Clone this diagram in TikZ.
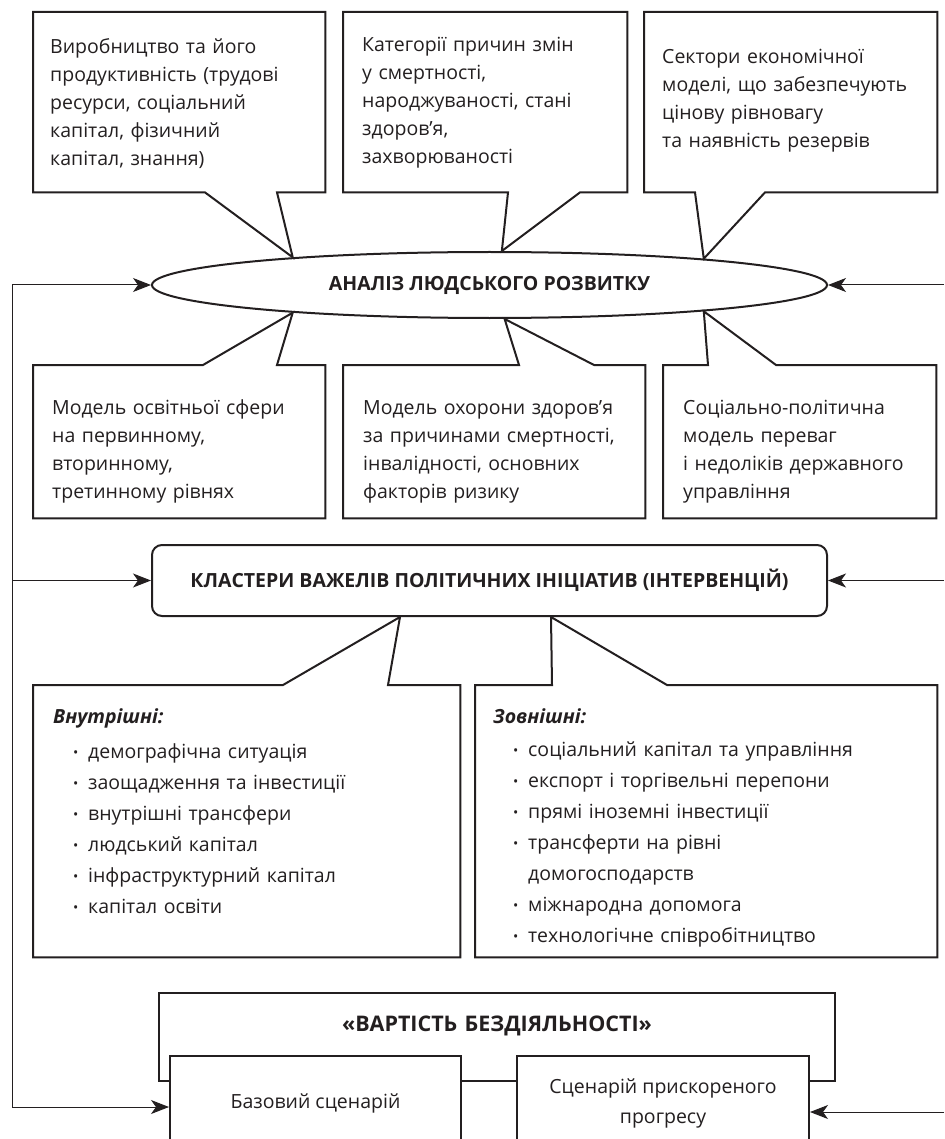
\documentclass[tikz,border=0pt]{standalone}
\usepackage{fontspec}
\setmainfont{Open Sans}
\usetikzlibrary{arrows.meta,shapes.geometric,positioning}
\definecolor{ink}{RGB}{35,31,32}
\newcommand{\bul}{\makebox[35pt][l]{\hspace{20pt}\raisebox{1pt}{\fontsize{14}{14}\selectfont•}}}

\begin{document}
\begin{tikzpicture}[x=1pt,y=-1pt,>={Stealth[length=18pt,width=14pt,inset=5pt]},
  every node/.style={font=\fontsize{19.5}{28}\selectfont,text=ink},
  txtbox/.style={anchor=north west,inner ysep=0pt,align=left},
  title/.style={font=\fontsize{19.5}{28}\selectfont\bfseries},
  listfont/.style={font=\fontsize{19.5}{31}\selectfont},
  outl/.style={draw=ink,line width=2pt,line join=miter},
  fbl/.style={draw=ink,line width=1pt}]
\useasboundingbox (0,0) rectangle (944,1139);
\clip (0,0) rectangle (944,1139);

\node[ellipse,outl,fill=white,minimum width=675pt,minimum height=66pt,inner sep=0pt,title] (analiz) at (489.5,285) {АНАЛІЗ ЛЮДСЬКОГО РОЗВИТКУ};

\node[txtbox,text width=258pt,inner xsep=17pt,text height=41pt,text depth=139pt] (vyr) at (33,12) {Виробництво та його\\продуктивність (трудові\\ресурси, соціальний\\капітал, фізичний\\капітал, знання)};
\node[txtbox,text width=246pt,inner xsep=19pt,text height=39pt,text depth=141pt] (kat) at (343,12) {Категорії причин змін\\у смертності,\\народжуваності, стані\\здоров’я,\\захворюваності};
\node[txtbox,text width=257pt,inner xsep=18pt,text height=51pt,text depth=129pt] (sek) at (644,12) {Сектори економічної\\моделі, що забезпечують\\цінову рівновагу\\та наявність резервів};
\draw[outl] (vyr.north west) -- (vyr.north east) -- (vyr.south east) -- ([xshift=244pt]vyr.south west) -- (analiz.172.5) -- ([xshift=172pt]vyr.south west) -- (vyr.south west) -- cycle;
\draw[outl] (kat.north west) -- (kat.north east) -- (kat.south east) -- ([xshift=237pt]kat.south west) -- (analiz.70) -- ([xshift=165pt]kat.south west) -- (kat.south west) -- cycle;
\draw[outl] (sek.north west) -- (sek.north east) -- (sek.south east) -- ([xshift=121pt]sek.south west) -- (analiz.7) -- ([xshift=51pt]sek.south west) -- (sek.south west) -- cycle;

\node[txtbox,text width=254pt,inner xsep=19pt,text height=49pt,text depth=104pt] (osv) at (33,365) {Модель освітньої сфери\\на первинному,\\вторинному,\\третинному рівнях};
\node[txtbox,text width=262pt,inner xsep=20pt,text height=49pt,text depth=104pt] (ohor) at (343,365) {Модель охорони здоров’я\\за причинами смертності,\\інвалідності, основних\\факторів ризику};
\node[txtbox,text width=233pt,inner xsep=20pt,text height=49pt,text depth=104pt] (socpol) at (663,365) {Соціально-політична\\модель переваг\\і недоліків державного\\управління};
\draw[outl] (osv.south west) -- (osv.south east) -- (osv.north east) -- ([xshift=244pt]osv.north west) -- (analiz.-172.5) -- ([xshift=170pt]osv.north west) -- (osv.north west) -- cycle;
\draw[outl] (ohor.south west) -- (ohor.south east) -- (ohor.north east) -- ([xshift=251pt]ohor.north west) -- (analiz.-66) -- ([xshift=176pt]ohor.north west) -- (ohor.north west) -- cycle;
\draw[outl] (socpol.south west) -- (socpol.south east) -- (socpol.north east) -- ([xshift=113pt]socpol.north west) -- (analiz.-7) -- ([xshift=45pt]socpol.north west) -- (socpol.north west) -- cycle;

\node[outl,rounded corners=10pt,minimum width=675pt,minimum height=71pt,title] (klaster) at (489.5,580.5) {КЛАСТЕРИ ВАЖЕЛІВ ПОЛІТИЧНИХ ІНІЦІАТИВ (ІНТЕРВЕНЦІЙ)};

\node[txtbox,listfont,text width=387pt,inner xsep=20pt,text height=38pt,text depth=234pt] (vnutr) at (33,685) {\textbf{\textit{Внутрішні:}}\\[4pt]
\bul демографічна ситуація\\
\bul заощадження та інвестиції\\
\bul внутрішні трансфери\\
\bul людський капітал\\
\bul інфраструктурний капітал\\
\bul капітал освіти};
\node[txtbox,listfont,text width=426pt,inner xsep=18pt,text height=38pt,text depth=234pt] (zovn) at (475,685) {\textbf{\textit{Зовнішні:}}\\[2pt]
\bul соціальний капітал та управління\\
\bul експорт і торгівельні перепони\\
\bul прямі іноземні інвестиції\\
\bul трансферти на рівні\\
\hspace*{35pt}домогосподарств\\
\bul міжнародна допомога\\
\bul технологічне співробітництво};
\draw[outl] (vnutr.south west) -- (vnutr.south east) -- (vnutr.north east) -- ([xshift=355pt]vnutr.north west) -- ([xshift=-89.5pt]klaster.south) -- ([xshift=250pt]vnutr.north west) -- (vnutr.north west) -- cycle;
\draw[outl] (zovn.south west) -- (zovn.south east) -- (zovn.north east) -- ([xshift=192pt]zovn.north west) -- ([xshift=61.5pt]klaster.south) -- ([xshift=77pt]zovn.north west) -- (zovn.north west) -- cycle;

\node[outl,fill=white,anchor=north west,text width=640pt,inner xsep=18pt,inner ysep=0pt,align=center,text height=38pt,text depth=50pt,font=\fontsize{21.5}{28}\selectfont\bfseries] (vartist) at (158,992) {«ВАРТІСТЬ БЕЗДІЯЛЬНОСТІ»};
\node[outl,fill=white,minimum width=291pt,minimum height=94pt,align=center] (bazov) at (315.5,1103) {Базовий сценарій};
\node[outl,fill=white,minimum width=292pt,minimum height=94pt,align=center,font=\fontsize{19.5}{30}\selectfont] (pryskor) at (663,1103) {Сценарій прискореного\\прогресу};

\coordinate (fbx) at (12,0);
\coordinate (rgx) at (944,0);
\coordinate (bazin) at ([yshift=-4pt]bazov.west);
\coordinate (prin) at ([yshift=-9pt]pryskor.east);
\draw[fbl] (fbx |- analiz.west) -- (fbx |- bazin);
\draw[fbl,->] (fbx |- analiz.west) -- (analiz.west);
\draw[fbl,->] (fbx |- klaster.west) -- (klaster.west);
\draw[fbl,->] (fbx |- bazin) -- (bazin);
\draw[fbl,->] (rgx |- analiz.east) -- (analiz.east);
\draw[fbl,->] (rgx |- klaster.east) -- (klaster.east);
\draw[fbl,->] (rgx |- prin) -- (prin);
\end{tikzpicture}
\end{document}
